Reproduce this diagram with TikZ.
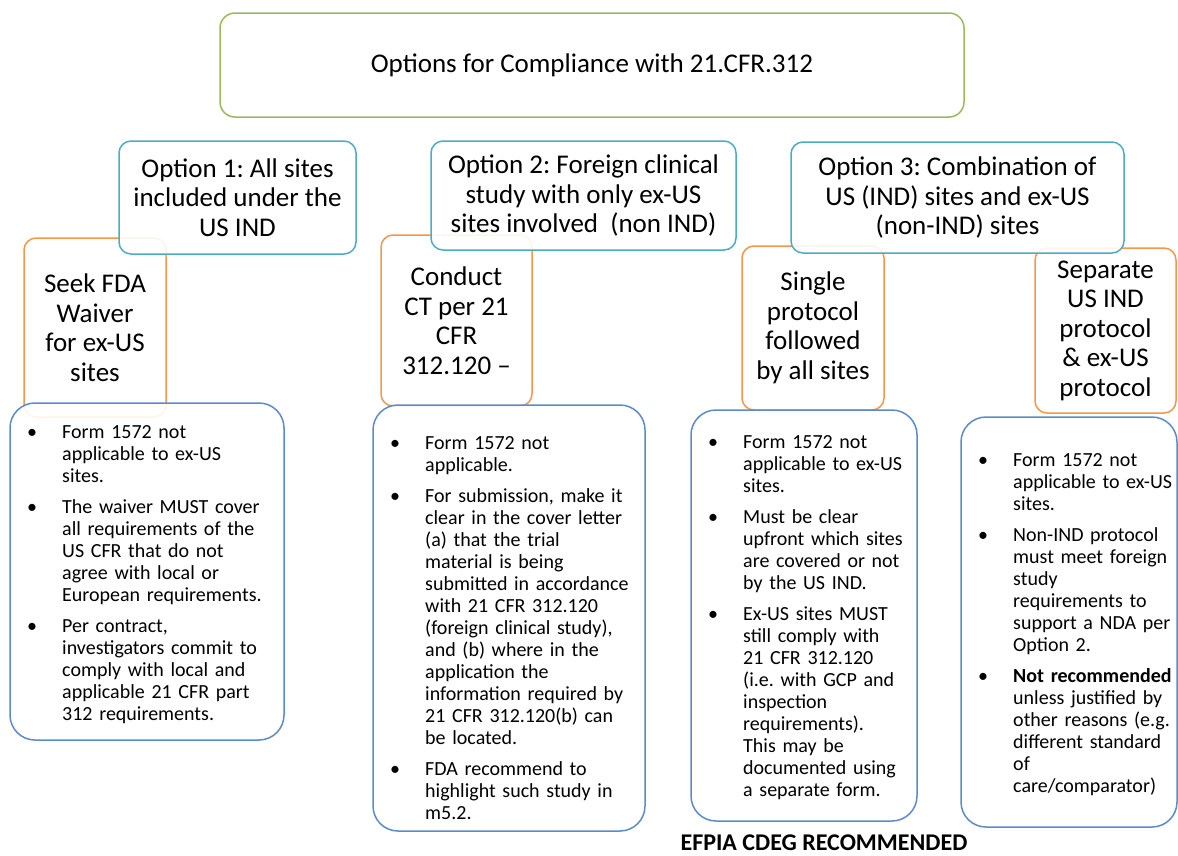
\documentclass[tikz,border=0pt]{standalone}
\usepackage{fontspec}
\setmainfont{Carlito}
\usepackage{enumitem}
\frenchspacing
\definecolor{top_green}{HTML}{9BBB59}
\definecolor{opt_cyan}{HTML}{4BACC6}
\definecolor{sub_orange}{HTML}{F79646}
\definecolor{note_blue}{HTML}{5B8BCB}
\setlist[itemize]{label=\textbullet, leftmargin=35pt, labelwidth=20pt, labelsep=15pt, align=left, itemsep=9pt, parsep=0pt, topsep=0pt, partopsep=0pt}
\tikzset{
  topbox/.style={draw=top_green, line width=1.5pt, rounded corners=15pt, inner sep=0pt, font=\fontsize{27}{30}\selectfont},
  optbox/.style={draw=opt_cyan, fill=white, fill opacity=0.9, text opacity=1, line width=1.5pt, rounded corners=12pt, align=center, inner sep=0pt, font=\fontsize{27}{29.5}\selectfont},
  subbox/.style={draw=sub_orange, line width=1.5pt, rounded corners=12pt, align=center, inner sep=0pt, font=\fontsize{27}{29.5}\selectfont},
  notebox/.style={draw=note_blue, fill=white, fill opacity=0.9, line width=1.5pt, rounded corners=25pt, inner sep=0pt},
  notetext/.style={anchor=west, inner sep=0pt, text width=250pt, font=\fontsize{20}{22}\selectfont}
}

\begin{document}
\begin{tikzpicture}[x=1pt,y=-1pt]
    \useasboundingbox (0,0) rectangle (1178,855);
    \node[topbox, minimum width=744pt, minimum height=104pt] (title) at (592,65) {Options for Compliance with 21.CFR.312};
    % orange sub-options, drawn first so the other boxes sit over them
    \node[subbox, minimum width=142pt, minimum height=179pt] (waiver) at (95,327.5) {Seek FDA\\Waiver\\for ex-US\\sites};
    \node[subbox, minimum width=151pt, minimum height=171pt] (conduct) at (456.5,320.5) {Conduct\\CT per 21\\CFR\\312.120 –};
    \node[subbox, minimum width=142pt, minimum height=164pt] (single) at (813,328) {Single\\protocol\\followed\\by all sites};
    \node[subbox, minimum width=141pt, minimum height=165pt] (separate) at (1105.5,330.5) {Separate\\US IND\\protocol\\\& ex-US\\protocol};
    % the three options
    \node[optbox, minimum width=237pt, minimum height=113pt] (opt1) at (237.5,197.5) {Option 1: All sites\\included under the\\US IND};
    \node[optbox, minimum width=305pt, minimum height=109pt] (opt2) at (583.5,195.5) {Option 2: Foreign clinical\\study with only ex-US\\sites involved\ \ (non IND)};
    \node[optbox, minimum width=333pt, minimum height=111pt] (opt3) at (957.5,197.5) {Option 3: Combination of\\US (IND) sites and ex-US\\(non-IND) sites};
    % notes
    \node[notebox, minimum width=274pt, minimum height=337pt] (note1) at (147,571.5) {};
    \node[notebox, minimum width=272pt, minimum height=426pt] (note2) at (509,618) {};
    \node[notebox, minimum width=226pt, minimum height=411pt] (note3) at (804,615.5) {};
    \node[notebox, minimum width=216pt, minimum height=410pt] (note4) at (1069,622) {};
    \node[notetext] (text1) at (27,570) {\begin{itemize}
      \item Form 1572 not\\applicable to ex-US\\sites.
      \item The waiver MUST cover\\all requirements of the\\US CFR that do not\\agree with local or\\European requirements.
      \item Per contract,\\investigators commit to\\comply with local and\\applicable 21 CFR part\\312 requirements.
    \end{itemize}};
    \node[notetext] (text2) at (390,624) {\begin{itemize}
      \item Form 1572 not\\applicable.
      \item For submission, make it\\clear in the cover letter\\(a) that the trial\\material is being\\submitted in accordance\\with 21 CFR 312.120\\(foreign clinical study),\\and (b) where in the\\application the\\information required by\\21 CFR 312.120(b) can\\be located.
      \item FDA recommend to\\highlight such study in\\m5.2.
    \end{itemize}};
    \node[notetext] (text3) at (708,613) {\begin{itemize}
      \item Form 1572 not\\applicable to ex-US\\sites.
      \item Must be clear\\upfront which sites\\are covered or not\\by the US IND.
      \item Ex-US sites MUST\\still comply with\\21 CFR 312.120\\(i.e. with GCP and\\inspection\\requirements).\\This may be\\documented using\\a separate form.
    \end{itemize}};
    \node[notetext] (text4) at (978,620) {\begin{itemize}
      \item Form 1572 not\\applicable to ex-US\\sites.
      \item Non-IND protocol\\must meet foreign\\study\\requirements to\\support a NDA per\\Option 2.
      \item \textbf{Not recommended}\\unless justified by\\other reasons (e.g.\\different standard\\of\\care/comparator)
    \end{itemize}};
    \node[inner sep=0pt, font=\bfseries\fontsize{24}{26}\selectfont] (rec) at (824,843) {EFPIA CDEG RECOMMENDED};
\end{tikzpicture}
\end{document}
